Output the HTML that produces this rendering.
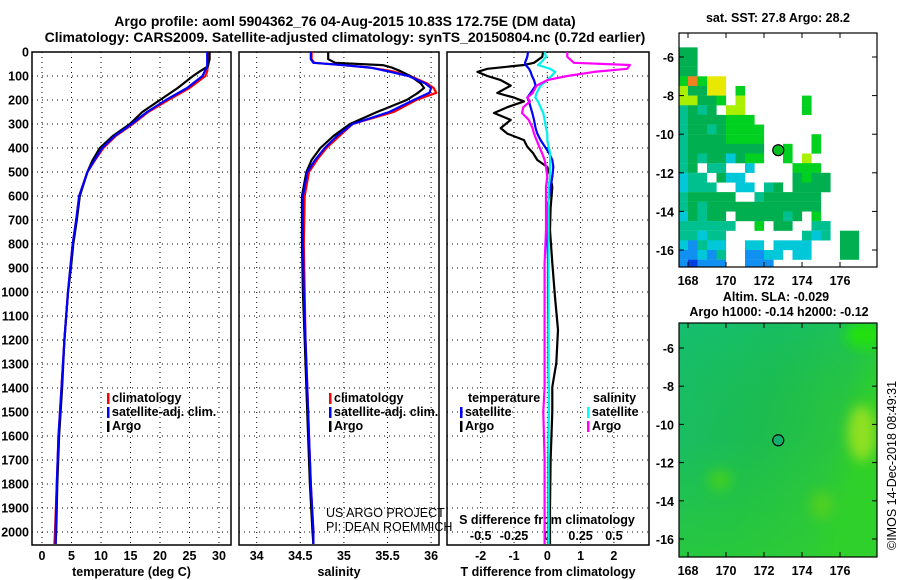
<!DOCTYPE html>
<html><head><meta charset="utf-8">
<style>
html,body{margin:0;padding:0;background:#fff;}
svg{display:block;font-family:"Liberation Sans",sans-serif;}
.b{font-weight:bold;font-size:12.5px;fill:#000;}
.t{font-weight:bold;font-size:14px;fill:#000;}
</style></head>
<body>
<svg id="c" width="900" height="580" viewBox="0 0 900 580" xmlns="http://www.w3.org/2000/svg">
<text class="t" x="345" y="26" text-anchor="middle">Argo profile: aoml 5904362_76 04-Aug-2015 10.83S 172.75E (DM data)</text>
<text class="t" x="345" y="42" text-anchor="middle">Climatology: CARS2009. Satellite-adjusted climatology: synTS_20150804.nc (0.72d earlier)</text>
<g id="g"></g>
</svg>
<script>
// temperature panel data
const depthT=[0,30,60,80,100,150,200,250,300,350,400,450,500,600,700,800,900,1000,1200,1400,1600,1800,2000,2050];
const argoT=[28.4,28.4,28.1,26.8,25.6,23.0,20.0,17.0,14.9,12.0,9.8,8.6,7.7,6.4,5.9,5.3,4.9,4.4,3.8,3.4,2.9,2.6,2.4,2.3];
const climT=[28.1,28.1,28.1,28.0,27.7,25.0,21.4,18.0,15.4,12.5,10.4,9.0,7.7,6.3,5.8,5.2,4.8,4.4,3.8,3.3,2.8,2.5,2.2,2.1];
const satT=[28.0,28.0,28.0,27.6,27.2,24.6,21.0,17.8,15.2,12.3,10.2,8.9,7.7,6.3,5.8,5.2,4.8,4.4,3.8,3.3,2.8,2.5,2.3,2.3];
// salinity panel data
const depthS=[0,30,45,55,65,80,100,130,150,170,200,250,300,350,400,450,500,600,800,1000,1200,1400,1600,1800,2000,2050];
const argoS=[34.82,34.82,34.9,35.45,35.55,35.65,35.76,35.88,35.92,35.85,35.72,35.38,35.07,34.88,34.73,34.63,34.57,34.52,34.52,34.53,34.55,34.57,34.59,34.61,34.64,34.65];
const climS=[34.63,34.63,34.66,35.0,35.3,35.55,35.76,35.95,36.03,36.06,35.83,35.57,35.1,34.95,34.8,34.69,34.6,34.55,34.54,34.55,34.56,34.58,34.6,34.62,34.65,34.65];
const satS=[34.62,34.62,34.65,35.0,35.3,35.5,35.74,35.93,36.0,35.98,35.8,35.52,35.1,34.92,34.78,34.67,34.58,34.53,34.53,34.54,34.56,34.58,34.6,34.62,34.65,34.65];
// difference panel data
const depthD=[0,20,45,54,70,83,100,117,140,171,190,206,230,254,283,317,340,367,395,421,450,479,520,562,650,742,879,1021,1158,1296,1396,1500,1700,1900,2050];
const argoTd=[-0.13,-0.15,-0.4,-0.7,-1.8,-2.1,-1.8,-1.4,-1.1,-1.5,-1.0,-0.7,-1.2,-1.6,-1.1,-1.4,-1.2,-0.7,-0.6,-0.43,-0.3,0,0.1,0.15,0.1,0.08,0.15,0.23,0.32,0.27,0.15,0.15,0.1,0.08,0.08];
const satTd=[-0.58,-0.6,-0.67,-0.65,-0.55,-0.5,-0.46,-0.4,-0.35,-0.5,-0.6,-0.55,-0.5,-0.45,-0.4,-0.35,-0.3,-0.2,-0.07,0.05,0.15,0.18,0.15,0.1,0,0,0.02,0.02,0.03,0.03,0.04,0.04,0.03,0.03,0.03];
const satSd=[-0.02,-0.01,-0.05,-0.07,0.02,0.06,0.03,0,-0.05,-0.08,-0.09,-0.07,-0.05,-0.03,-0.02,-0.01,0,0,0.01,0.02,0.02,0.02,0.02,0.01,0.01,0.01,0.01,0.01,0.01,0.01,0.01,0.01,0.01,0.01,0.01];
const argoSd=[0.15,0.15,0.2,0.62,0.6,0.35,0.15,0,-0.08,-0.11,-0.15,-0.13,-0.18,-0.19,-0.14,-0.11,-0.1,-0.08,-0.06,-0.04,-0.02,-0.01,0,-0.01,-0.01,-0.01,-0.02,-0.02,-0.02,-0.02,-0.02,-0.03,-0.02,-0.02,-0.02];
const depthTicks=[0,100,200,300,400,500,600,700,800,900,1000,1100,1200,1300,1400,1500,1600,1700,1800,1900,2000];
const tTicks=[0,5,10,15,20,25,30];
const sTicks=[34,34.5,35,35.5,36];
const sTickLabels=["34","34.5","35","35.5","36"];
const dTTicks=[-2,-1,0,1,2];
const dSTicks=[-0.5,-0.25,0,0.25,0.5];
const dSTickLabels=["-0.5","-0.25","0","0.25","0.5"];
// SST map grid (0.5 deg cells from 167.5E, rows from 5S)
const sstRows=[
".....................",
"gg...................",
"gg...................",
"gg...................",
"GoGyy................",
"lggyy.G..............",
"llggG.l......G.......",
"tgtg.ll......G.......",
"tggggGGG.............",
"tggtgGGGG............",
"tggggGGGG.....G......",
"tgggggggg..G..G......",
"tgtggcgGG..G.l.......",
"tg.tt..c....GGG......",
"ctt.gcc.....gGgg.....",
"cttt..cc.tg.gggg.....",
"tggggg..tgggggg......",
"tgtgggggggggggg......",
"cgtgg.gggggtg.G......",
"tttttt..G.gg..tt.....",
"ttctt........tct.gg..",
"cbtcc..cc.cccc...gg..",
"bbcbt..bbcc.cc...gg..",
"bBbbb..bbb...........",
];
const sstColors={g:"#00b050",G:"#00d020",t:"#00c090",c:"#00c8d8",b:"#1090f0",B:"#0040e0",y:"#e8e800",l:"#a8f000",o:"#f08020"};
const argoLon=172.75, argoLat=-10.83;
const lonTicks=[168,170,172,174,176];
const latTicks=[-6,-8,-10,-12,-14,-16];

const NS="http://www.w3.org/2000/svg";
const G=document.getElementById('g');
function el(tag,at,parent){const e=document.createElementNS(NS,tag);for(const k in at)e.setAttribute(k,at[k]);(parent||G).appendChild(e);return e;}
const yD=d=>52+d*0.24;
const xT=v=>42+v*5.9;
const xS=v=>256.7+(v-34)*87.2;
const xDT=v=>547.3+v*33.3;
const xDS=v=>547.3+v*133.2;

function panel(x0,x1,xt,ticks,labels,name,xlabel){
  const r=el('rect',{x:x0,y:52,width:x1-x0,height:493,fill:'#fff',stroke:'#000','stroke-width':1.5});
  
  
  for(const d of depthTicks){
    const l=el('line',{x1:x0,x2:x1,y1:yD(d),y2:yD(d),stroke:'#000','stroke-dasharray':'1,4','stroke-width':1});
    
    
  }
  ticks.forEach((v,i)=>{
    const l=el('line',{x1:xt(v),x2:xt(v),y1:52,y2:545,stroke:'#000','stroke-dasharray':'1,4','stroke-width':1});
    
    
    const t=el('text',{x:xt(v),y:560,'text-anchor':'middle',class:'b'});
    t.textContent=labels[i];
    
    
  });
  const t=el('text',{x:(x0+x1)/2,y:576,'text-anchor':'middle',class:'b'});
  t.textContent=xlabel;
  
  
}
panel(32,231,xT,tTicks,tTicks.map(String),'temperature-panel','temperature (deg C)');
panel(239,439,xS,sTicks,sTickLabels,'salinity-panel','salinity');
panel(447,649,xDT,dTTicks,dTTicks.map(String),'difference-panel','T difference from climatology');
for(const d of depthTicks){
  const t=el('text',{x:29,y:yD(d)+4.5,'text-anchor':'end',class:'b'});
  t.textContent=String(d);
  
  
}
dSTicks.forEach((v,i)=>{
  const t=el('text',{x:xDS(v),y:540,'text-anchor':'middle',class:'b'});
  t.textContent=dSTickLabels[i];
  
  
});
{const t=el('text',{x:547,y:524,'text-anchor':'middle',class:'b'});t.textContent='S difference from climatology';

}

function line(ds,vs,xf,col,name){
  const p=ds.map((d,i)=>xf(vs[i]).toFixed(1)+','+yD(d).toFixed(1)).join(' ');
  const l=el('polyline',{points:p,fill:'none',stroke:col,'stroke-width':2.2,'stroke-linejoin':'round'});
  
  
}
line(depthT,climT,xT,'#ff0000','temperature-climatology-line');
line(depthT,argoT,xT,'#000','temperature-argo-line');
line(depthT,satT,xT,'#0000ff','temperature-satellite-line');
line(depthS,climS,xS,'#ff0000','salinity-climatology-line');
line(depthS,argoS,xS,'#000','salinity-argo-line');
line(depthS,satS,xS,'#0000ff','salinity-satellite-line');
line(depthD,argoTd,xDT,'#000','t-diff-argo-line');
line(depthD,satTd,xDT,'#0000ff','t-diff-satellite-line');
line(depthD,satSd,xDS,'#00f0f0','s-diff-satellite-line');
line(depthD,argoSd,xDS,'#ff00ff','s-diff-argo-line');

function legend(x,y,items,name){
  items.forEach((it,i)=>{
    if(it[1]){const m=el('rect',{x:x,y:y+i*14-9,width:2.5,height:11,fill:it[1]});
      
      }
    const t=el('text',{x:x+(it[1]?5:0),y:y+i*14,class:'b'});
    t.textContent=it[0];
    
    
  });
}
legend(107,402,[['climatology','#f00'],['satellite-adj. clim.','#00f'],['Argo','#000']],'temperature-legend');
legend(329,402,[['climatology','#f00'],['satellite-adj. clim.','#00f'],['Argo','#000']],'salinity-legend');
legend(468,402,[['temperature',null]],'diff-legend-t-header');
legend(460,416,[['satellite','#00f'],['Argo','#000']],'diff-legend-t');
legend(593,402,[['salinity',null]],'diff-legend-s-header');
legend(587,416,[['satellite','#0ff'],['Argo','#f0f']],'diff-legend-s');
[['US ARGO PROJECT',517],['PI: DEAN ROEMMICH',531]].forEach(a=>{
  const t=el('text',{x:326,y:a[1],'font-size':12.5,fill:'#000'});t.textContent=a[0];
  
  
});

// maps
const mx=lon=>688+(lon-168)*19;
function mapFrame(top,bottom,yl,name){
  lonTicks.forEach(v=>{
    el('line',{x1:mx(v),x2:mx(v),y1:top,y2:top+5,stroke:'#000'});
    el('line',{x1:mx(v),x2:mx(v),y1:bottom-5,y2:bottom,stroke:'#000'});
    const t=el('text',{x:mx(v),y:bottom+18,'text-anchor':'middle',class:'b'});t.textContent=String(v);
    
    
  });
  latTicks.forEach(v=>{
    el('line',{x1:679,x2:684,y1:yl(v),y2:yl(v),stroke:'#000'});
    el('line',{x1:872,x2:877,y1:yl(v),y2:yl(v),stroke:'#000'});
    const t=el('text',{x:674,y:yl(v)+5,'text-anchor':'end',class:'b'});t.textContent=String(v);
    
    
  });
  const r=el('rect',{x:679,y:top,width:198,height:bottom-top,fill:'none',stroke:'#000','stroke-width':1.2});
  
  
  const c=el('circle',{cx:mx(argoLon),cy:yl(argoLat),r:5.5,fill:'none',stroke:'#000','stroke-width':1.2});
  
  
}
const y1=lat=>57+(-6-lat)*19.3;
el('clipPath',{id:'cp1'});
el('rect',{x:679,y:33,width:198,height:234},G.lastChild);
const g1=el('g',{'clip-path':'url(#cp1)'});


sstRows.forEach((row,j)=>{
  [...row].forEach((ch,i)=>{
    if(ch==='.')return;
    const lon=167.5+i*0.5, lat=-5-j*0.5;
    const r=el('rect',{x:mx(lon),y:y1(lat),width:9.6,height:9.8,fill:sstColors[ch]},g1);
    
    
  });
});
el('circle',{cx:mx(argoLon),cy:y1(argoLat),r:5,fill:'#00c020'},g1);
mapFrame(33,267,y1,'sst-map');
const t1=el('text',{x:778,y:22,'text-anchor':'middle',class:'b'});t1.textContent='sat. SST: 27.8 Argo: 28.2';



const y2=lat=>348+(-6-lat)*19.1;
const defs=el('defs',{});
defs.innerHTML='<linearGradient id="lg" x1="0" y1="0" x2="1" y2="0.3"><stop offset="0" stop-color="#18bd68"/><stop offset="0.5" stop-color="#1cbc50"/><stop offset="0.85" stop-color="#28c440"/><stop offset="1" stop-color="#30d028"/></linearGradient>'+
'<linearGradient id="lg2" x1="0" y1="0" x2="0" y2="1"><stop offset="0" stop-color="#10c080" stop-opacity="0.35"/><stop offset="0.35" stop-color="#10c060" stop-opacity="0"/><stop offset="0.5" stop-color="#30d030" stop-opacity="0"/><stop offset="1" stop-color="#30d030" stop-opacity="0.6"/></linearGradient>'+
'<filter id="bl"><feGaussianBlur stdDeviation="6"/></filter>';
const g2=el('g',{});


el('rect',{x:679,y:323,width:198,height:234,fill:'url(#lg)'},g2);
el('rect',{x:679,y:323,width:198,height:234,fill:'url(#lg2)'},g2);
el('clipPath',{id:'cp2'});
el('rect',{x:679,y:323,width:198,height:234},G.lastChild);
const g3=el('g',{filter:'url(#bl)','clip-path':'url(#cp2)'},g2);
el('ellipse',{cx:862,cy:433,rx:14,ry:28,fill:'#90e020'},g3);
el('ellipse',{cx:822,cy:505,rx:12,ry:14,fill:'#50d020'},g3);
el('ellipse',{cx:720,cy:480,rx:12,ry:10,fill:'#40d020'},g3);
el('ellipse',{cx:865,cy:335,rx:20,ry:14,fill:'#20e010'},g3);
el('circle',{cx:mx(argoLon),cy:y2(argoLat),r:5,fill:'#10b070'},g2);
mapFrame(323,557,y2,'sla-map');
const t2=el('text',{x:776,y:301,'text-anchor':'middle',class:'b'});t2.textContent='Altim. SLA: -0.029';


const t3=el('text',{x:779,y:316,'text-anchor':'middle',class:'b'});t3.textContent='Argo h1000: -0.14 h2000: -0.12';


const t4=el('text',{x:0,y:0,'font-size':12.5,transform:'translate(896,550) rotate(-90)'});t4.textContent='©IMOS 14-Dec-2018 08:49:31';


</script>
</body></html>
